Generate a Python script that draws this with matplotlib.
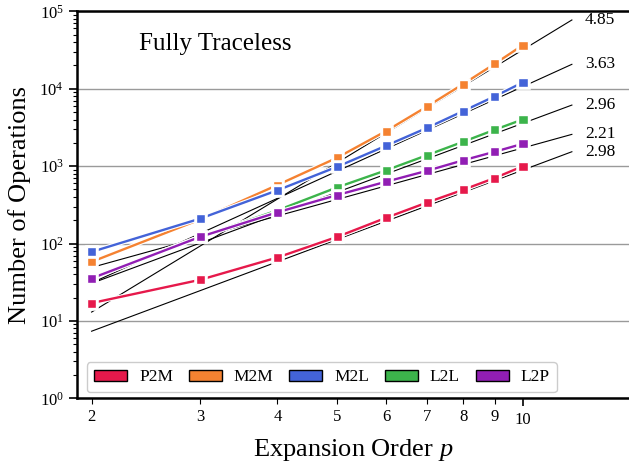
import matplotlib
matplotlib.use('Agg')
import matplotlib.pyplot as plt
import matplotlib.patheffects as pe
from matplotlib.patches import Patch
from matplotlib.ticker import FixedLocator, NullFormatter
import numpy as np

plt.rcParams['font.family'] = ['Liberation Serif', 'DejaVu Serif']
plt.rcParams['mathtext.fontset'] = 'custom'
plt.rcParams['mathtext.rm'] = 'Liberation Serif'
plt.rcParams['mathtext.it'] = 'Liberation Serif:italic'

# expansion orders
orders = [2, 3, 4, 5, 6, 7, 8, 9, 10]

labels = ['P2M', 'M2M', 'M2L', 'L2L', 'L2P']
colors = ['#e6194B', '#f58231', '#4363d8', '#3cb44b', '#911eb4']

p2m = [17, 34, 66, 122, 215, 340, 495, 702, 1000]
m2m = [58, 205, 570, 1285, 2840, 5930, 11500, 21000, 36700]
m2l = [78, 210, 487, 982, 1835, 3134, 5150, 7980, 12100]
l2l = [36, 122, 268, 532, 883, 1390, 2065, 2953, 4020]
l2p = [35.5, 122, 253, 423, 629, 873, 1189, 1535, 1946]

# power-law fits  C * p^k  (exponent shown as label)
fit_k = [2.98, 4.85, 3.63, 2.96, 2.21]
fit_c = [0.933, 0.451, 2.50, 3.93, 10.6]
fit_range = [2, 12]

series = [p2m, m2m, m2l, l2l, l2p]

fig = plt.figure(figsize=(6.29, 4.68), dpi=100)
ax = fig.add_axes([0.1224, 0.1489, 0.8776, 0.8269])
ax.set_xscale('log')
ax.set_yscale('log')

for k, c in zip(fit_k, fit_c):
    xs = np.array(fit_range, dtype=float)
    ys = c * xs ** k
    ax.plot(xs, ys, color='black', lw=0.8, zorder=2)
    ax.text(12.6, ys[-1], f'{k:.2f}', fontsize=12.5, va='center', ha='left')

for vals, col in zip(series, colors):
    ax.plot(orders, vals, color=col, lw=1.7, marker='s', ms=6.5,
            mec='white', mew=1.0, zorder=3,
            path_effects=[pe.Stroke(linewidth=3.3, foreground='white'), pe.Normal()])

ax.set_xlim(1.894, 14.85)
ax.set_ylim(1, 1e5)

ax.xaxis.set_major_locator(FixedLocator([10]))
ax.xaxis.set_minor_locator(FixedLocator(orders[:-1]))
ax.set_xticklabels(['10'])
ax.set_xticklabels([str(o) for o in orders[:-1]], minor=True)
ax.tick_params(axis='x', which='major', length=6, width=1.2, labelsize=12, pad=4)
ax.tick_params(axis='x', which='minor', length=4, width=0.8, labelsize=12, pad=4)
ax.tick_params(axis='y', which='major', length=6, width=1.2, labelsize=12)
ax.tick_params(axis='y', which='minor', length=3, width=0.8)
ax.yaxis.set_minor_formatter(NullFormatter())

ax.grid(True, axis='y', which='major', color='#9a9a9a', lw=1.0)
ax.set_axisbelow(True)

for s in ['left', 'bottom', 'top']:
    ax.spines[s].set_linewidth(1.8)
ax.spines['right'].set_visible(False)

ax.set_xlabel('Expansion Order $p$', fontsize=19, labelpad=6)
ax.set_ylabel('Number of Operations', fontsize=19, labelpad=6)

ax.text(0.25, 0.915, 'Fully Traceless', transform=ax.transAxes,
        fontsize=18, ha='center', va='center')

handles = [Patch(facecolor=c, edgecolor='black', lw=1.0) for c in colors]
ax.legend(handles, labels, loc='lower left', bbox_to_anchor=(0.018, 0.016),
          borderaxespad=0, ncol=5, fontsize=12.5, handlelength=1.9,
          handleheight=0.6, handletextpad=0.7, columnspacing=0.9,
          frameon=True, fancybox=True, edgecolor='#cccccc', framealpha=1)

fig.savefig('out.png', dpi=100)
